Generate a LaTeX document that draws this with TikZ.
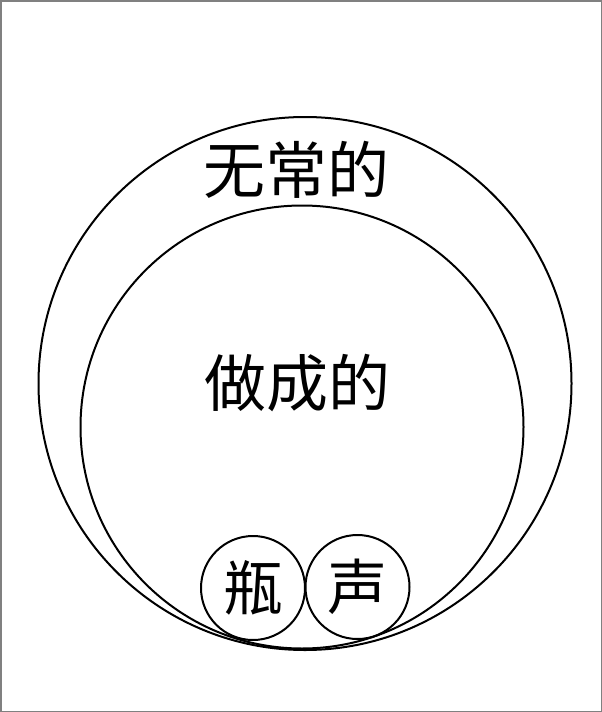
\documentclass[tikz,border=0pt]{standalone}
\usepackage{fontspec}
\newfontfamily\cjk{Noto Sans CJK SC}

\begin{document}
\begin{tikzpicture}[x=1pt,y=-1pt,line width=2pt]
  \useasboundingbox (0,0) rectangle (602,712);
  \draw[gray,line width=1.5pt] (0.75,0.75) rectangle (601.25,711.25);
  \coordinate (outer) at (305,383.5);
  \coordinate (inner) at (302,427);
  \coordinate (bottle) at (253,588);
  \coordinate (sound) at (357.5,587);
  \draw (outer) circle (266.5);
  \draw (inner) circle (221.5);
  \draw (bottle) circle (52);
  \draw (sound) circle (52);
  \node[font=\cjk\fontsize{62}{62}\selectfont] (impermanent) at (296,170) {无常的};
  \node[font=\cjk\fontsize{62}{62}\selectfont] (made) at (297,383) {做成的};
  \node[font=\cjk\fontsize{60}{60}\selectfont] (b) at (bottle) {瓶};
  \node[font=\cjk\fontsize{60}{60}\selectfont] (s) at (sound) {声};
\end{tikzpicture}
\end{document}
